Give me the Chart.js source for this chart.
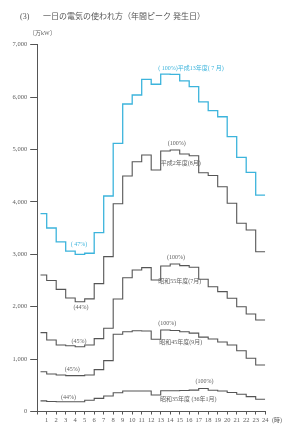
<!DOCTYPE html>
<html>
<head>
<meta charset="utf-8">
<script src="https://cdn.jsdelivr.net/npm/chart.js@4.4.1/dist/chart.umd.min.js"></script>
<style>
  html, body { margin: 0; padding: 0; background: #fff; }
  #wrap { position: relative; width: 290px; height: 428px; }
</style>
</head>
<body>
<div id="wrap"><canvas id="chart" width="290" height="428"></canvas></div>
<script>
// hours 1..24, each value is held over the hour that ends at its tick
const hours = [1, 2, 3, 4, 5, 6, 7, 8, 9, 10, 11, 12, 13, 14, 15, 16, 17, 18, 19, 20, 21, 22, 23, 24];

// 万kW
const heisei13 = [3775, 3502, 3238, 3060, 3000, 3020, 3412, 4113, 5118, 5868, 6040, 6340,
  6245, 6440, 6435, 6310, 6200, 5910, 5740, 5625, 5245, 4850, 4563, 4130];
const heisei2 = [2605, 2500, 2330, 2165, 2095, 2150, 2440, 2955, 3965, 4494, 4767, 4895,
  4610, 4971, 4990, 4915, 4880, 4557, 4505, 4290, 3973, 3592, 3464, 3050];
const showa55 = [1505, 1365, 1270, 1255, 1237, 1270, 1390, 1588, 2147, 2553, 2700, 2745,
  2510, 2777, 2815, 2783, 2752, 2523, 2382, 2287, 2160, 2000, 1861, 1746];
const showa45 = [760, 716, 697, 684, 684, 697, 800, 970, 1473, 1523, 1540, 1536,
  1378, 1555, 1545, 1523, 1495, 1420, 1385, 1325, 1270, 1160, 1015, 887];
const showa35 = [203, 190, 187, 187, 187, 215, 250, 296, 359, 391, 391, 391,
  315, 397, 397, 400, 408, 438, 405, 391, 362, 330, 283, 235];

const yTicks = [0, 1000, 2000, 3000, 4000, 5000, 6000, 7000];

const BLUE = "#3cb4dc";
const GRAY = "#555";
const TEXT = "#606060";
const FONT = '"Liberation Serif", "Noto Sans CJK JP", serif';

// annotation texts, placed at (hour, value)
const notes = [
  { text: "( 100%)平成13年度( 7 月)", hour: 16.2, value: 6555, color: BLUE },
  { text: "( 47%)", hour: 4.4, value: 3197, color: BLUE },
  { text: "(100%)", hour: 14.7, value: 5124, color: TEXT },
  { text: "平成2年度(8月)", hour: 15.1, value: 4742, color: TEXT },
  { text: "(44%)", hour: 4.6, value: 1994, color: TEXT },
  { text: "(100%)", hour: 14.6, value: 2948, color: TEXT },
  { text: "昭和55年度(7月)", hour: 15.0, value: 2490, color: TEXT },
  { text: "(45%)", hour: 4.4, value: 1345, color: TEXT },
  { text: "(100%)", hour: 13.7, value: 1689, color: TEXT },
  { text: "昭和45年度(9月)", hour: 15.1, value: 1326, color: TEXT },
  { text: "(45%)", hour: 3.7, value: 811, color: TEXT },
  { text: "(100%)", hour: 17.6, value: 582, color: TEXT },
  { text: "昭和35年度 (36年1月)", hour: 15.9, value: 239, color: TEXT },
  { text: "(44%)", hour: 3.3, value: 277, color: TEXT },
];

// first step starts a little right of the axis
function toSteps(values) {
  const pts = [{ x: 0.35, y: values[0] }];
  hours.forEach((h, i) => pts.push({ x: h, y: values[i] }));
  return pts;
}

function series(values, color, width) {
  return {
    data: toSteps(values),
    borderColor: color,
    borderWidth: width,
    pointRadius: 0,
    stepped: "after",
    fill: false,
  };
}

const textPlugin = {
  id: "texts",
  afterDraw(chart) {
    const ctx = chart.ctx;
    const x = chart.scales.x;
    const y = chart.scales.y;
    ctx.save();
    ctx.textBaseline = "middle";

    ctx.fillStyle = "#555";
    ctx.font = "8px " + FONT;
    ctx.textAlign = "left";
    ctx.fillText("(3)", 20, 17);
    ctx.fillText("一日の電気の使われ方（年間ピーク 発生日）", 43, 17);

    ctx.fillStyle = TEXT;
    ctx.font = "6px " + FONT;
    ctx.fillText("〔万kW〕", 29, 33);
    ctx.fillText("(時)", 272, 420);

    ctx.textAlign = "center";
    notes.forEach((n) => {
      ctx.fillStyle = n.color;
      ctx.fillText(n.text, x.getPixelForValue(n.hour), y.getPixelForValue(n.value));
    });
    ctx.restore();
  },
};

new Chart(document.getElementById("chart"), {
  type: "line",
  data: {
    datasets: [
      series(heisei13, BLUE, 1.3),
      series(heisei2, GRAY, 1.1),
      series(showa55, GRAY, 1.1),
      series(showa45, GRAY, 1.1),
      series(showa35, GRAY, 1.1),
    ],
  },
  options: {
    responsive: false,
    animation: false,
    layout: { padding: { top: 44.7, right: 24.8, bottom: 0, left: 0 } },
    plugins: { legend: { display: false }, tooltip: { enabled: false } },
    scales: {
      x: {
        type: "linear",
        min: 0,
        max: 24,
        afterFit: (scale) => { scale.height = 16.5; },
        afterBuildTicks: (scale) => {
          scale.ticks = [0, ...hours].map((v) => ({ value: v }));
        },
        border: { display: true, color: GRAY, width: 1 },
        grid: { drawOnChartArea: false, tickLength: 3, color: GRAY },
        ticks: {
          autoSkip: false,
          maxRotation: 0,
          padding: 1.5,
          color: TEXT,
          font: { size: 6.5, family: FONT },
          callback: (v) => (v === 0 ? "" : v),
        },
      },
      y: {
        min: 0,
        max: 7000,
        afterFit: (scale) => { scale.width = 37.2; },
        afterBuildTicks: (scale) => {
          scale.ticks = yTicks.map((v) => ({ value: v }));
        },
        border: { display: true, color: GRAY, width: 1 },
        grid: { drawOnChartArea: false, tickLength: 7, color: GRAY },
        ticks: {
          padding: 3,
          color: TEXT,
          font: { size: 6.5, family: FONT },
          callback: (v) => v.toLocaleString("en-US"),
        },
      },
    },
  },
  plugins: [textPlugin],
});
</script>
</body>
</html>
